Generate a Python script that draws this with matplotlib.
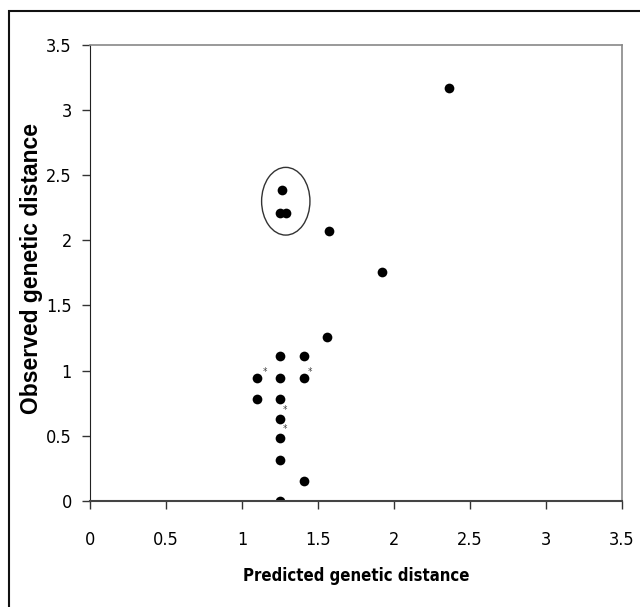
import matplotlib
matplotlib.use("Agg")
import matplotlib.pyplot as plt
from matplotlib.patches import Ellipse, Rectangle

plt.rcParams['font.family'] = ['DejaVu Sans']
plt.rcParams['font.stretch'] = 'condensed'

# predicted vs observed genetic distance
predicted = [2.36, 1.56, 1.25, 1.41, 1.10, 1.25, 1.41, 1.10, 1.25, 1.25,
             1.25, 1.25, 1.41, 1.25, 1.265, 1.25, 1.29, 1.57, 1.92]
observed = [3.17, 1.26, 1.11, 1.11, 0.94, 0.94, 0.94, 0.78, 0.78, 0.63,
            0.48, 0.31, 0.15, 0.0, 2.39, 2.21, 2.21, 2.07, 1.76]

# small asterisks next to some points
star_x = [1.15, 1.45, 1.28, 1.28]
star_y = [0.99, 0.99, 0.70, 0.55]

ticks = [0, 0.5, 1, 1.5, 2, 2.5, 3, 3.5]
tick_labels = ['0', '0.5', '1', '1.5', '2', '2.5', '3', '3.5']

fig = plt.figure(figsize=(6.4, 6.07), dpi=100)
ax = fig.add_axes([0.1406, 0.1751, 0.8313, 0.7508])

ax.plot(predicted, observed, 'o', color='black', markersize=7, markeredgewidth=0)
for sx, sy in zip(star_x, star_y):
    ax.text(sx, sy, '*', fontsize=7, color='#444444', ha='center', va='center')

ax.add_patch(Ellipse((1.288, 2.30), 0.318, 0.52, fill=False, edgecolor='#333333', lw=1.0))

ax.set_xlim(0, 3.5)
ax.set_ylim(0, 3.5)
ax.set_xticks(ticks)
ax.set_xticklabels(tick_labels)
ax.set_yticks(ticks)
ax.set_yticklabels(tick_labels)
ax.tick_params(direction='out', length=6, width=1, labelsize=13, color='#333333')
ax.tick_params(axis='x', pad=16)
ax.tick_params(axis='y', pad=7)

for side in ['top', 'right']:
    ax.spines[side].set_color('#888888')
    ax.spines[side].set_linewidth(1.2)
ax.spines['left'].set_color('#222222')
ax.spines['bottom'].set_color('#444444')
ax.spines['bottom'].set_linewidth(1.5)

ax.set_xlabel('Predicted genetic distance', fontsize=12, fontweight='bold', labelpad=13)
ax.set_ylabel('Observed genetic distance', fontsize=16.5, fontweight='bold',
              family=['Liberation Sans', 'DejaVu Sans'], fontstretch='normal')
ax.yaxis.set_label_coords(-0.088, 0.51)

# outer frame around the figure (left and top edges visible)
fig.patches.append(Rectangle((9 / 640, -0.1), 1.1, 1 - 11 / 607 + 0.1,
                             transform=fig.transFigure, fill=False,
                             edgecolor='#111111', lw=1.5))

fig.savefig('out.png', dpi=100)
